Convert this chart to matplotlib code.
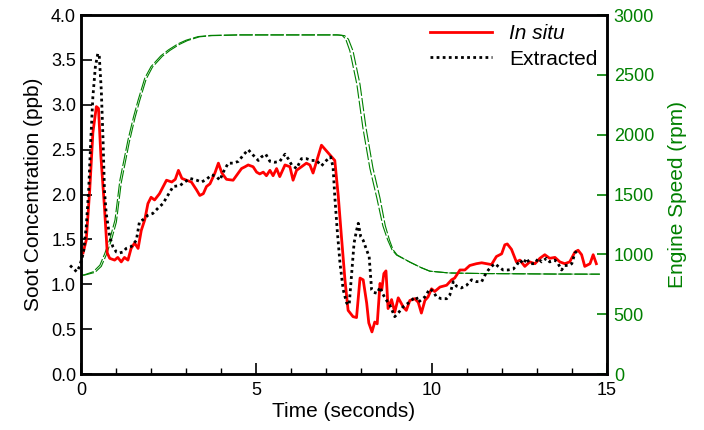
import matplotlib
matplotlib.use('Agg')
import matplotlib.pyplot as plt

plt.rcParams['font.family'] = ['Liberation Sans', 'DejaVu Sans']

# In situ soot concentration (ppb)
insitu_t = [0.06, 0.15, 0.25, 0.34, 0.44, 0.5, 0.57, 0.67, 0.75, 0.82, 0.96, 1.05, 1.15, 1.24, 1.34,
            1.43, 1.53, 1.63, 1.72, 1.82, 1.91, 2.0, 2.1, 2.24, 2.44, 2.59, 2.69, 2.78, 2.88, 3.01,
            3.15, 3.3, 3.39, 3.49, 3.58, 3.68, 3.82, 3.92, 4.02, 4.15, 4.34, 4.49, 4.58, 4.68, 4.77,
            4.91, 5.01, 5.1, 5.2, 5.29, 5.39, 5.48, 5.58, 5.67, 5.82, 5.96, 6.05, 6.15, 6.29, 6.43,
            6.53, 6.62, 6.72, 6.86, 7.06, 7.24, 7.34, 7.43, 7.53, 7.62, 7.76, 7.86, 7.96, 8.05, 8.15,
            8.21, 8.3, 8.38, 8.45, 8.53, 8.58, 8.64, 8.7, 8.76, 8.86, 8.95, 9.05, 9.19, 9.28, 9.38,
            9.52, 9.62, 9.71, 9.81, 9.9, 10.0, 10.09, 10.24, 10.43, 10.57, 10.66, 10.81, 10.95, 11.09,
            11.28, 11.43, 11.57, 11.71, 11.85, 12.0, 12.09, 12.16, 12.28, 12.42, 12.52, 12.66, 12.8,
            12.95, 13.09, 13.23, 13.37, 13.52, 13.66, 13.8, 13.94, 14.09, 14.18, 14.28, 14.37, 14.52,
            14.61, 14.7]
insitu = [1.35, 1.49, 2.05, 2.69, 2.98, 2.96, 2.42, 1.86, 1.35, 1.29, 1.27, 1.30, 1.25, 1.30, 1.27,
          1.40, 1.46, 1.40, 1.60, 1.72, 1.90, 1.97, 1.94, 2.01, 2.16, 2.14, 2.17, 2.27, 2.18, 2.16,
          2.14, 2.05, 1.99, 2.01, 2.09, 2.12, 2.24, 2.35, 2.24, 2.17, 2.16, 2.24, 2.29, 2.31, 2.33,
          2.31, 2.25, 2.23, 2.25, 2.21, 2.27, 2.21, 2.29, 2.20, 2.33, 2.31, 2.16, 2.27, 2.31, 2.35,
          2.33, 2.24, 2.37, 2.55, 2.46, 2.38, 1.98, 1.53, 1.05, 0.71, 0.64, 0.63, 1.07, 1.05, 0.79,
          0.57, 0.47, 0.58, 0.56, 1.01, 0.94, 1.12, 1.15, 0.73, 0.83, 0.69, 0.85, 0.75, 0.71, 0.82,
          0.84, 0.80, 0.68, 0.82, 0.86, 0.95, 0.92, 0.97, 0.99, 1.05, 1.07, 1.16, 1.16, 1.21,
          1.23, 1.24, 1.23, 1.22, 1.31, 1.34, 1.44, 1.45, 1.39, 1.25, 1.27, 1.20, 1.25,
          1.23, 1.29, 1.33, 1.29, 1.30, 1.25, 1.23, 1.25, 1.36, 1.38, 1.33, 1.20, 1.23,
          1.33, 1.23]

# Extracted soot concentration (ppb)
extracted_t = [-0.31, -0.12, -0.04, 0.07, 0.15, 0.22, 0.28, 0.34, 0.41, 0.48, 0.52, 0.58, 0.63, 0.67,
               0.72, 0.82, 0.91, 1.01, 1.1, 1.2, 1.29, 1.43, 1.58, 1.67, 1.77, 1.91, 2.05, 2.2, 2.34,
               2.46, 2.63, 2.82, 2.96, 3.11, 3.3, 3.44, 3.58, 3.73, 3.87, 3.96, 4.06, 4.2, 4.34, 4.49,
               4.63, 4.77, 4.91, 5.06, 5.15, 5.27, 5.39, 5.53, 5.67, 5.82, 5.91, 6.01, 6.15, 6.29, 6.43,
               6.58, 6.72, 6.86, 7.0, 7.12, 7.19, 7.24, 7.31, 7.39, 7.48, 7.58, 7.65, 7.72, 7.79, 7.86,
               7.91, 7.98, 8.05, 8.15, 8.22, 8.29, 8.35, 8.45, 8.53, 8.6, 8.7, 8.81, 8.95, 9.07, 9.19,
               9.33, 9.48, 9.57, 9.62, 9.81, 9.95, 10.05, 10.14, 10.28, 10.43, 10.52, 10.62, 10.71,
               10.85, 11.0, 11.14, 11.28, 11.43, 11.52, 11.62, 11.71, 11.81, 11.9, 12.04, 12.18, 12.33,
               12.42, 12.52, 12.62, 12.71, 12.8, 12.95, 13.04, 13.14, 13.28, 13.37, 13.52, 13.61, 13.71,
               13.8, 13.9, 14.0, 14.09, 14.18]
extracted = [1.21, 1.14, 1.20, 1.35, 1.64, 2.05, 2.61, 3.09, 3.42, 3.57, 3.56, 3.16, 2.61, 2.05,
             1.79, 1.53, 1.42, 1.36, 1.35, 1.36, 1.40, 1.42, 1.49, 1.70, 1.72, 1.77, 1.79, 1.85, 1.90,
             1.98, 2.09, 2.10, 2.14, 2.18, 2.16, 2.14, 2.17, 2.22, 2.20, 2.16, 2.25, 2.35, 2.35, 2.37,
             2.44, 2.50, 2.44, 2.38, 2.42, 2.45, 2.37, 2.36, 2.37, 2.45, 2.40, 2.33, 2.29, 2.40, 2.40,
             2.38, 2.38, 2.32, 2.38, 2.42, 2.31, 1.98, 1.60, 1.23, 0.94, 0.79, 0.77, 1.12, 1.46, 1.60,
             1.68, 1.53, 1.49, 1.38, 1.31, 0.94, 0.91, 0.90, 0.97, 0.90, 0.83, 0.77, 0.64, 0.69, 0.75,
             0.79, 0.84, 0.86, 0.80, 0.86, 0.95, 0.92, 0.86, 0.84, 0.84, 0.88, 1.03, 0.98,
             0.96, 0.99, 1.05, 1.03, 1.03, 1.10, 1.16, 1.20, 1.23, 1.20, 1.16, 1.16, 1.17,
             1.21, 1.27, 1.23, 1.29, 1.23, 1.23, 1.29, 1.25, 1.29, 1.25, 1.27, 1.23, 1.16,
             1.21, 1.21, 1.23, 1.35, 1.38]

# Engine speed (rpm), two traces
speed_t_a = [0.0, 0.07, 0.35, 0.54, 0.68, 0.83, 0.97, 1.11, 1.34, 1.5, 1.63, 1.82, 2.0, 2.28, 2.5,
             2.77, 3.0, 3.34, 3.7, 4.5, 5.5, 6.5, 7.3, 7.45, 7.55, 7.67, 7.87, 8.04, 8.24, 8.44, 8.61,
             8.75, 8.87, 9.0, 9.38, 9.7, 9.95, 10.5, 11.5, 12.5, 13.5, 14.8]
speed_a = [830, 827, 855, 910, 1008, 1134, 1287, 1620, 1955, 2150, 2289, 2473, 2570, 2660, 2710,
           2760, 2790, 2820, 2830, 2835, 2835, 2835, 2835, 2830, 2800, 2700, 2420, 2060, 1720, 1470,
           1240, 1120, 1040, 995, 936, 890, 860, 845, 840, 838, 836, 835]
speed_t_b = [0.0, 0.1, 0.4, 0.58, 0.72, 0.87, 1.01, 1.15, 1.38, 1.54, 1.67, 1.86, 2.04, 2.32, 2.54,
             2.81, 3.04, 3.38, 3.74, 4.5, 5.5, 6.5, 7.35, 7.52, 7.63, 7.76, 7.96, 8.13, 8.33, 8.53,
             8.68, 8.8, 8.9, 9.02, 9.38, 9.7, 9.95, 10.5, 11.5, 12.5, 13.5, 14.8]
speed_b = [830, 827, 850, 900, 995, 1120, 1270, 1600, 1940, 2140, 2280, 2465, 2565, 2655, 2705,
           2755, 2787, 2818, 2828, 2833, 2833, 2833, 2833, 2828, 2798, 2700, 2420, 2060, 1720, 1470,
           1240, 1120, 1040, 995, 936, 890, 860, 845, 840, 838, 836, 835]

green = '#008000'

fig = plt.figure(figsize=(7.04, 4.30), dpi=100)
ax = fig.add_axes([0.115, 0.13, 0.747, 0.835])
ax2 = ax.twinx()

# engine speed behind the soot traces
ax2.plot(speed_t_a, speed_a, color=green, lw=0.8, dashes=(12, 2))
ax2.plot(speed_t_b, speed_b, color=green, lw=0.8, dashes=(12, 2))
ax2.set_ylim(0, 3000)
ax2.set_yticks([0, 500, 1000, 1500, 2000, 2500, 3000])
ax2.tick_params(axis='y', direction='in', colors=green, labelsize=13, length=7, width=1.2, pad=5)
ax2.set_ylabel('Engine Speed (rpm)', color=green, fontsize=15, labelpad=10)

ax.set_zorder(ax2.get_zorder() + 1)
ax.patch.set_visible(False)

ax.plot(insitu_t, insitu, color='red', lw=2.0, label='In situ')
ax.plot(extracted_t, extracted, color='black', lw=2.0, linestyle=(0, (1, 1.2)),
        label='Extracted', clip_on=False)

ax.set_xlim(0, 15)
ax.set_ylim(0, 4.0)
ax.set_xticks([0, 5, 10, 15])
ax.set_xticks(range(16), minor=True)
ax.set_yticks([0.0, 0.5, 1.0, 1.5, 2.0, 2.5, 3.0, 3.5, 4.0])
ax.set_yticklabels(['0.0', '0.5', '1.0', '1.5', '2.0', '2.5', '3.0', '3.5', '4.0'])
ax.tick_params(axis='both', which='major', direction='in', labelsize=13, length=8, width=1.2)
ax.tick_params(axis='x', which='minor', direction='in', length=4, width=1.0)
ax.tick_params(axis='x', which='major', pad=6)
ax.set_xlabel('Time (seconds)', fontsize=15, labelpad=2)
ax.set_ylabel('Soot Concentration (ppb)', fontsize=15, labelpad=6)

for a in (ax, ax2):
    for s in a.spines.values():
        s.set_linewidth(1.8)
        s.set_color('black')

leg = ax.legend(loc='upper right', frameon=False, fontsize=15, handlelength=3.0,
                borderaxespad=0.05, labelspacing=0.3, handletextpad=0.8)
leg.get_texts()[0].set_fontstyle('italic')

fig.savefig('out.png', dpi=100)
